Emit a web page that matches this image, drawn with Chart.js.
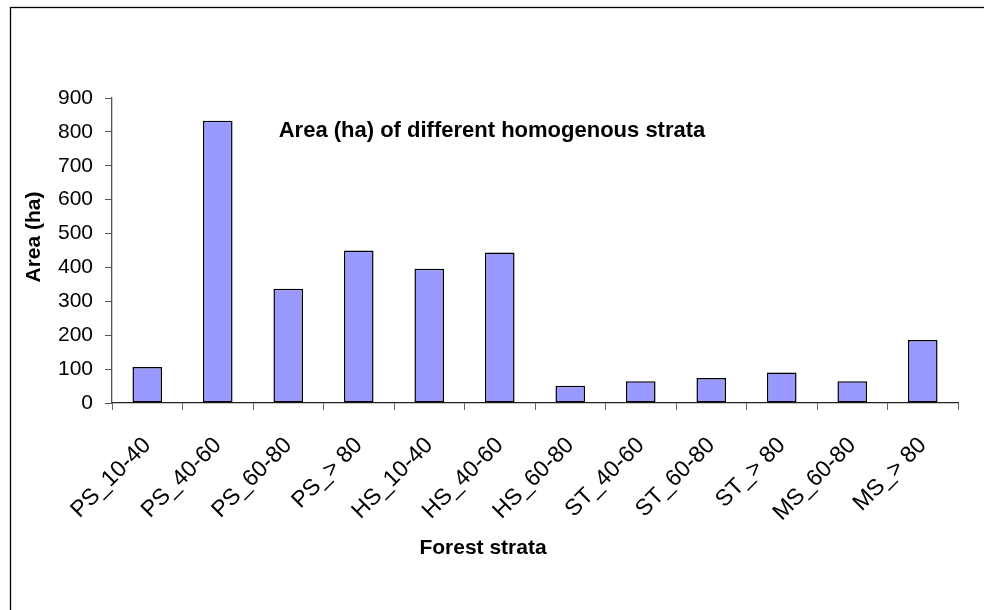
<!DOCTYPE html>
<html>
<head>
<meta charset="utf-8">
<script src="https://cdn.jsdelivr.net/npm/chart.js@4.4.0/dist/chart.umd.min.js"></script>
<style>
  html, body { margin: 0; padding: 0; background: #fff; }
</style>
</head>
<body>
<canvas id="strataChart" width="984" height="610"></canvas>
<script>
// categorias (estratos) e áreas
const strata = ['PS_10-40', 'PS_40-60', 'PS_60-80', 'PS_> 80', 'HS_10-40', 'HS_40-60',
                'HS_60-80', 'ST_40-60', 'ST_60-80', 'ST_> 80', 'MS_60-80', 'MS_> 80'];
const areaHa = [106, 833, 337, 450, 396, 444, 51, 64, 74, 90, 64, 186];
const yTicks = [0, 100, 200, 300, 400, 500, 600, 700, 800, 900];

const chartTitle = 'Area (ha) of different homogenous strata';
const xTitle = 'Forest strata';
const yTitle = 'Area (ha)';

const FONT = "'Liberation Sans', Arial, sans-serif";

// moldura, título e títulos dos eixos desenhados à mão
const extraText = {
    id: 'extraText',
    beforeDraw(chart) {
        const ctx = chart.ctx;
        ctx.save();
        ctx.strokeStyle = '#000';
        ctx.lineWidth = 1.3;
        ctx.strokeRect(10.5, 7.5, 1100, 700);
        ctx.restore();
    },
    afterDraw(chart) {
        const ctx = chart.ctx;
        ctx.save();
        ctx.fillStyle = '#000';
        ctx.textAlign = 'center';
        ctx.textBaseline = 'middle';
        ctx.font = 'bold 22px ' + FONT;
        ctx.fillText(chartTitle, 492, 131);
        ctx.font = 'bold 21px ' + FONT;
        ctx.fillText(xTitle, 483, 548);
        // título do eixo y, girado
        ctx.translate(34, 237);
        ctx.rotate(-Math.PI / 2);
        ctx.fillText(yTitle, 0, 0);
        ctx.restore();
    }
};

const config = {
    type: 'bar',
    data: {
        labels: strata,
        datasets: [{
            label: yTitle,
            data: areaHa,
            backgroundColor: '#9999ff',
            borderColor: '#000',
            borderWidth: 1.5,
            borderSkipped: false,
            barPercentage: 0.42,
            categoryPercentage: 1.0
        }]
    },
    options: {
        responsive: false,
        animation: false,
        layout: { padding: { top: 98, right: 26, left: 0, bottom: 0 } },
        plugins: {
            legend: { display: false },
            tooltip: { enabled: false }
        },
        scales: {
            x: {
                grid: {
                    offset: true,
                    drawOnChartArea: false,
                    tickLength: 7,
                    color: '#666'
                },
                border: { color: '#222', width: 1.3 },
                ticks: {
                    color: '#000',
                    font: { family: FONT, size: 23 },
                    minRotation: 45,
                    maxRotation: 45,
                    padding: 22,
                    autoSkip: false
                },
                afterFit(scale) { scale.height = 207; }
            },
            y: {
                min: 0,
                max: 900,
                grid: {
                    drawOnChartArea: false,
                    tickLength: 7,
                    color: '#555'
                },
                border: { color: '#555', width: 1.3 },
                ticks: {
                    color: '#000',
                    font: { family: FONT, size: 21 },
                    padding: 12
                },
                afterBuildTicks(scale) {
                    scale.ticks = yTicks.map(v => ({ value: v }));
                },
                afterFit(scale) { scale.width = 112; }
            }
        }
    },
    plugins: [extraText]
};

const ctxStrata = document.getElementById('strataChart').getContext('2d');
new Chart(ctxStrata, config);
</script>
</body>
</html>
